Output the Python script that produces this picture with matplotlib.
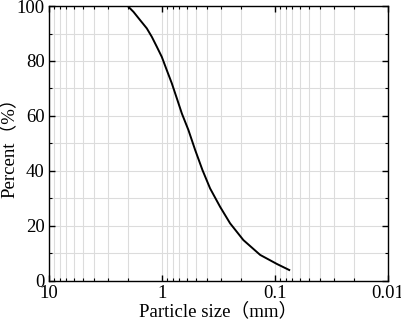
import numpy as np
import matplotlib.pyplot as plt
from matplotlib.ticker import LogLocator, FixedLocator, NullFormatter

# data
size_mm = [2.0, 1.78, 1.556, 1.358, 1.225, 1.107, 1.0, 0.904, 0.816, 0.728, 0.665,
           0.582, 0.507, 0.437, 0.374, 0.305, 0.249, 0.190, 0.135, 0.096, 0.0747]
percent = [100, 97.9, 94.9, 91.9, 88.8, 85.2, 81.5, 76.7, 71.9, 65.8, 60.9,
           54.9, 47.6, 40.3, 33.6, 26.9, 20.9, 14.8, 9.4, 6.1, 3.9]

xticks = [10, 1, 0.1, 0.01]
xticklabels = ["10", "1", "0.1", "0.01"]
yticks = [0, 20, 40, 60, 80, 100]

plt.rcParams['font.family'] = ['Liberation Serif', 'Noto Sans CJK SC']

fig = plt.figure(figsize=(4.01, 3.19), dpi=100)
ax = fig.add_axes([0.1214, 0.12, 0.8462, 0.861])

ax.plot(size_mm, percent, color='black', lw=1.4)

ax.set_xscale('log')
ax.set_xlim(10, 0.01)
ax.set_ylim(0, 100)

ax.set_xticks(xticks)
ax.set_xticklabels(xticklabels)
ax.xaxis.set_minor_locator(LogLocator(base=10, subs=np.arange(2, 10)))
ax.xaxis.set_minor_formatter(NullFormatter())
ax.set_yticks(yticks)
ax.yaxis.set_minor_locator(FixedLocator(np.arange(10, 100, 20)))

ax.grid(which='both', color='#dcdcdc', lw=0.8)
ax.set_axisbelow(True)

ax.tick_params(which='both', direction='in', top=True, right=True,
               labelsize=13.5, color='black')
ax.tick_params(which='major', length=4, width=1, pad=3)
ax.tick_params(which='minor', length=2.5, width=0.8)

for s in ax.spines.values():
    s.set_linewidth(1.0)

ax.set_xlabel("Particle size（mm）", fontsize=13.5, labelpad=0)
ax.set_ylabel("Percent（%）", fontsize=13.5)
ax.yaxis.set_label_coords(-0.09, 0.5)

fig.savefig("out.png", dpi=100)
